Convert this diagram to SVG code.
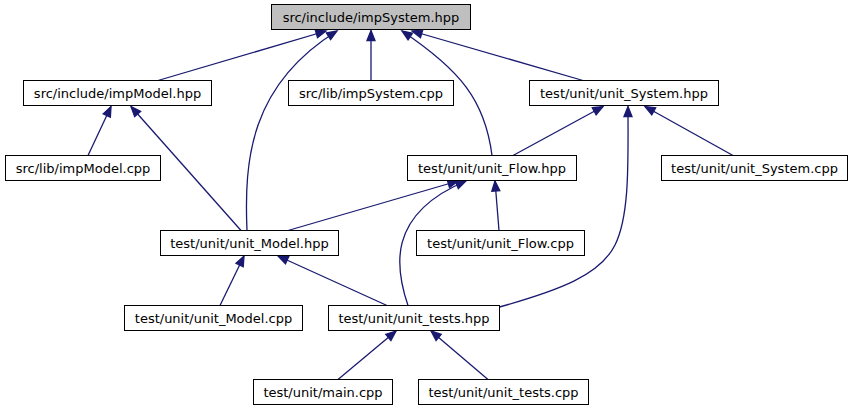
<svg xmlns="http://www.w3.org/2000/svg" width="855" height="411" viewBox="0 0 855 411">
<style>
.node rect{fill:#ffffff;stroke:#000000;stroke-width:1}
.node.root rect{fill:#bfbfbf}
.node text{font-family:"DejaVu Sans","Liberation Sans",sans-serif;font-size:13px;fill:#000000;text-anchor:middle}
.edge{fill:none;stroke:#191970;stroke-width:1.3;marker-end:url(#arr)}
</style>
<defs>
<marker id="arr" markerUnits="userSpaceOnUse" viewBox="0 0 10 8" refX="10" refY="4" markerWidth="10" markerHeight="8" orient="auto" overflow="visible">
<path d="M0,0 L10,4 L0,8 Z" fill="#191970" stroke="#191970" stroke-width="1.3" stroke-linejoin="miter"/>
</marker>
</defs>
<rect width="855" height="411" fill="#ffffff"/>
<g id="edges">
<path class="edge" d="M158,80.5 L326,31"/>
<path class="edge" d="M247,230.5 C244,160 250,85 337,31"/>
<path class="edge" d="M371,80.5 L371,30.5"/>
<path class="edge" d="M492,155.5 C485,100 460,70 402,31"/>
<path class="edge" d="M583,80.5 L412,31"/>
<path class="edge" d="M88,155.5 L111,106.5"/>
<path class="edge" d="M241,230.5 L131,106.5"/>
<path class="edge" d="M513,155.5 L603,106.5"/>
<path class="edge" d="M499.5,307 C560,290 600,275 615,245 C630,215 628,160 628,106.5"/>
<path class="edge" d="M733,155.5 L645,106.5"/>
<path class="edge" d="M288,230.5 L458,181"/>
<path class="edge" d="M408,305.5 C396,270 385,215 466,181"/>
<path class="edge" d="M499,230.5 L495,181"/>
<path class="edge" d="M220,305.5 L244,256"/>
<path class="edge" d="M387,305.5 L278,256"/>
<path class="edge" d="M338,379.5 L396,331"/>
<path class="edge" d="M488,379.5 L431,331"/>
</g>
<g id="impSystem_hpp" class="node root"><rect x="271.5" y="4.5" width="199" height="25"/><text x="371" y="22">src/include/impSystem.hpp</text></g>
<g id="impModel_hpp" class="node"><rect x="23.5" y="80.5" width="188" height="25"/><text x="117.5" y="98">src/include/impModel.hpp</text></g>
<g id="impSystem_cpp" class="node"><rect x="288.5" y="80.5" width="165" height="25"/><text x="371" y="98">src/lib/impSystem.cpp</text></g>
<g id="unit_System_hpp" class="node"><rect x="529.5" y="80.5" width="189" height="25"/><text x="624" y="98">test/unit/unit_System.hpp</text></g>
<g id="impModel_cpp" class="node"><rect x="5.5" y="155.5" width="155" height="25"/><text x="83" y="173">src/lib/impModel.cpp</text></g>
<g id="unit_Flow_hpp" class="node"><rect x="407.5" y="155.5" width="169" height="25"/><text x="492" y="173">test/unit/unit_Flow.hpp</text></g>
<g id="unit_System_cpp" class="node"><rect x="661.5" y="155.5" width="186" height="25"/><text x="754.5" y="173">test/unit/unit_System.cpp</text></g>
<g id="unit_Model_hpp" class="node"><rect x="160.5" y="230.5" width="178" height="25"/><text x="249.5" y="248">test/unit/unit_Model.hpp</text></g>
<g id="unit_Flow_cpp" class="node"><rect x="416.5" y="230.5" width="168" height="25"/><text x="500.5" y="248">test/unit/unit_Flow.cpp</text></g>
<g id="unit_Model_cpp" class="node"><rect x="124.5" y="305.5" width="178" height="25"/><text x="213.5" y="323">test/unit/unit_Model.cpp</text></g>
<g id="unit_tests_hpp" class="node"><rect x="328.5" y="305.5" width="171" height="25"/><text x="414" y="323">test/unit/unit_tests.hpp</text></g>
<g id="main_cpp" class="node"><rect x="253.5" y="379.5" width="139" height="25"/><text x="323" y="397">test/unit/main.cpp</text></g>
<g id="unit_tests_cpp" class="node"><rect x="418.5" y="379.5" width="170" height="25"/><text x="503.5" y="397">test/unit/unit_tests.cpp</text></g>
</svg>
